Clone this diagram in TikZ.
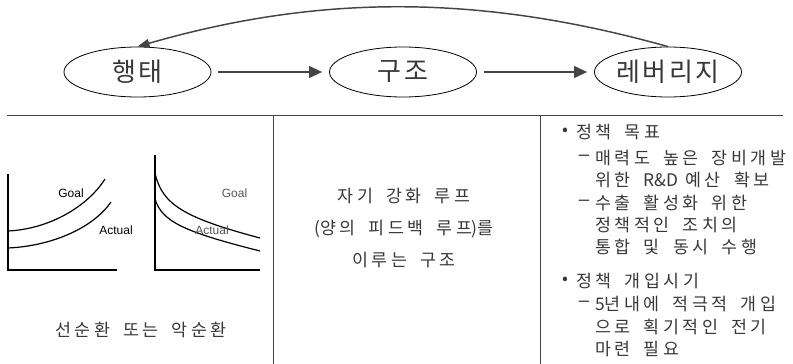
\documentclass[tikz,border=0pt]{standalone}
\usepackage{fontspec}
\setmainfont{Liberation Sans}
\newfontfamily\kr[LetterSpace=20,WordSpace=1.8]{Noto Sans CJK KR}
\newfontfamily\krn[WordSpace=1.8]{Noto Sans CJK KR}
\newfontfamily\krt[LetterSpace=10]{Noto Sans CJK KR}
\usetikzlibrary{arrows.meta,shapes.geometric}
\definecolor{txt}{HTML}{383838}
\definecolor{arr}{HTML}{444444}
\definecolor{lbl}{HTML}{555555}
\begin{document}
\begin{tikzpicture}[x=0.75pt,y=-0.75pt,
  ell/.style={ellipse, draw=black, line width=0.6pt, minimum width=110.25pt, minimum height=37.5pt, inner sep=0pt, font=\krt\fontsize{19.5}{22}\selectfont, text=txt},
  harrow/.style={draw=arr, line width=2.2pt, -{Triangle[length=10pt,width=8.5pt]}, shorten <=5pt, shorten >=5pt},
  carrow/.style={draw=arr, line width=1.1pt, -{Triangle[length=9pt,width=6.5pt]}},
  body/.style={font=\kr\fontsize{13}{16.5}\selectfont, text=txt, inner sep=0pt},
  bodyw/.style={body, anchor=west},
  dashmark/.style={font=\fontsize{14}{16}\selectfont, text=txt, inner sep=0pt},
  rule/.style={draw=arr, line width=0.75pt},
  axis/.style={draw=black, line width=0.8pt},
  curve/.style={draw=black, line width=0.9pt},
  lab/.style={font=\fontsize{9}{10}\selectfont, inner sep=0pt}
]
\useasboundingbox (0,0) rectangle (793,364);

% top loop
\node[ell] (h) at (137.5,72) {행태};
\node[ell] (g) at (403,72) {구조};
\node[ell] (r) at (668,72) {레버리지};
\draw[harrow] (h) -- (g);
\draw[harrow] (g) -- (r);
\draw[carrow] (r.north) .. controls (480,-6) and (320,-6) .. (h.north);

% table lines
\coordinate (tl) at (7,115);
\coordinate (tr) at (783,115);
\coordinate (v1t) at (273,115);
\coordinate (v1b) at (273,364);
\coordinate (v2t) at (540,115);
\coordinate (v2b) at (540,364);
\draw[rule] (tl) -- (tr);
\draw[rule] (v1t) -- (v1b);
\draw[rule] (v2t) -- (v2b);

% left chart (growth)
\draw[axis] (8,174) -- (8,270) -- (117,270);
\draw[curve] (8,231) .. controls (50,229) and (88,206) .. (105,179);
\draw[curve] (8,248) .. controls (52,246) and (93,228) .. (111,202);
\node[lab] (g1) at (71,193) {Goal};
\node[lab] (a1) at (116,230) {Actual};

% right chart (decay)
\draw[axis, line width=1.5pt] (155,155) -- (155,270) -- (260,270);
\draw[curve] (155,173) .. controls (162,205) and (185,218) .. (260,238);
\draw[curve] (155,199) .. controls (162,222) and (185,232) .. (260,251);
\node[lab, text=lbl] (g2) at (234.5,193) {Goal};
\node[lab, text=lbl] (a2) at (212,230) {Actual};

\node[body] (cyc) at (141,330) {선순환 또는 악순환};

% middle
\node[body, align=center, font=\kr\fontsize{13}{24}\selectfont] (mid) at (404,228) {자기 강화 루프\\{\krn(}양의 피드백 루프{\krn)}를\\이루는 구조};

% right
\node[body] (b1) at (565,132) {•};
\node[bodyw] (t1) at (576,132) {정책 목표};
\node[dashmark] (d1) at (584,158) {–};
\node[bodyw] (t2) at (595,158) {매력도 높은 장비개발};
\node[bodyw] (t3) at (595,180) {위한 {\krn R\&D }예산 확보};
\node[dashmark] (d2) at (584,203) {–};
\node[bodyw] (t4) at (595,203) {수출 활성화 위한};
\node[bodyw] (t5) at (595,225) {정책적인 조치의};
\node[bodyw] (t6) at (595,247) {통합 및 동시 수행};
\node[body] (b2) at (565,281) {•};
\node[bodyw] (t7) at (576,281) {정책 개입시기};
\node[dashmark] (d3) at (584,304) {–};
\node[bodyw] (t8) at (595,304) {{\krn 5}년내에 적극적 개입};
\node[bodyw] (t9) at (595,327) {으로 획기적인 전기};
\node[bodyw] (t10) at (595,349) {마련 필요};
\end{tikzpicture}
\end{document}
